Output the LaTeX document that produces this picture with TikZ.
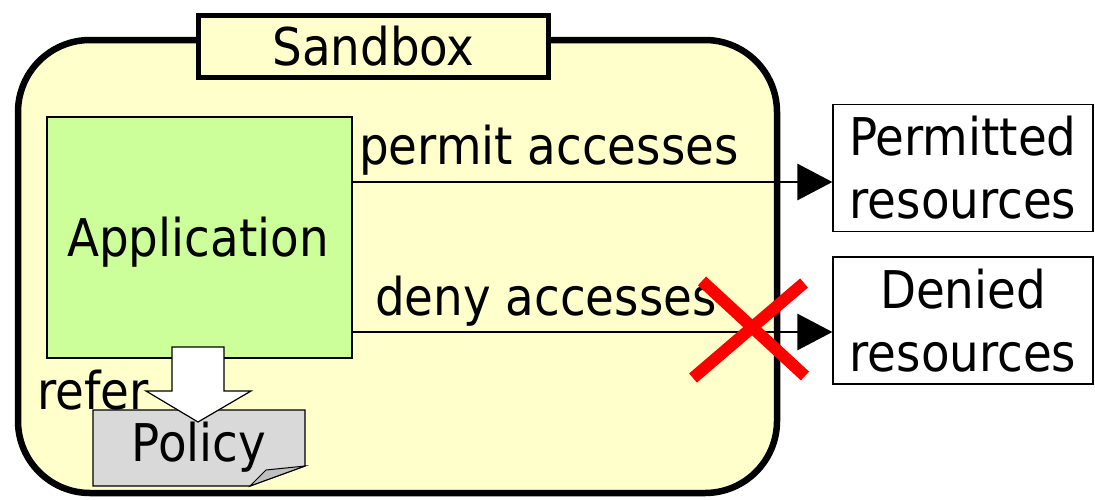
\documentclass[tikz,border=0pt]{standalone}
\usepackage{fontspec}
\setmainfont{DejaVu Sans Condensed}
\usetikzlibrary{arrows.meta}
\definecolor{sandfill}{HTML}{FFFFCC}
\definecolor{appfill}{HTML}{CCFF99}
\definecolor{polfill}{HTML}{D9D9D9}
\definecolor{foldfill}{HTML}{BFBFBF}
\tikzset{
  big/.style={font=\fontsize{52}{63}\selectfont},
  resbox/.style={draw, line width=1.2pt, fill=white, minimum width=260pt, minimum height=127pt, align=center, big},
  access/.style={line width=2.8pt, -{Triangle[length=35pt,width=36pt]}},
}
\begin{document}
\begin{tikzpicture}[x=1pt,y=-1pt]
\useasboundingbox (0,0) rectangle (1095,499);
% sandbox frame
\draw[line width=6.5pt, fill=sandfill, rounded corners=72pt] (18,40) rectangle (777,493);
\node[draw, line width=5pt, fill=sandfill, minimum width=350pt, minimum height=62pt, inner sep=0pt, big] (title) at (373.5,46) {Sandbox};
% application
\node[draw, line width=1.2pt, fill=appfill, minimum width=305pt, minimum height=241pt, big] (app) at (199.5,237.5) {};
\node[big, inner sep=0pt] (apptext) at (198,242) {Application};
% resources
\node[resbox] (perm) at (963,168) {Permitted\\resources};
\node[resbox] (deny) at (963,320.5) {Denied\\resources};
% accesses
\coordinate (p1) at (app.east |- 0,182);
\coordinate (d1) at (app.east |- 0,332);
\draw[access] (p1) -- (p1 -| perm.west);
\draw[access] (d1) -- (d1 -| deny.west);
\node[big, anchor=base west, inner sep=0pt] (ptext) at (359,164) {permit accesses};
\node[big, anchor=base west, inner sep=0pt] (dtext) at (375,315) {deny accesses};
% red cross on the denied path
\coordinate (x1) at (702,281);
\coordinate (x2) at (805,376);
\coordinate (x3) at (804,283);
\coordinate (x4) at (693,378);
\draw[red, line width=12pt] (x1) -- (x2);
\draw[red, line width=12pt] (x3) -- (x4);
% policy document with folded corner
\coordinate (pa) at (93,410);
\coordinate (pb) at (305,410);
\coordinate (pc) at (305,466);
\coordinate (pd) at (250,486);
\coordinate (pe) at (93,486);
\coordinate (pf) at (266,470);
\draw[line width=1.2pt, fill=polfill] (pa) -- (pb) -- (pc) -- (pd) -- (pe) -- cycle;
\draw[line width=1pt, fill=foldfill] (pc) -- (pf) -- (pd) -- cycle;
\node[big] (policy) at (199,447) {Policy};
% refer arrow
\coordinate (r1) at (172,347);
\coordinate (r2) at (224,347);
\coordinate (r3) at (224,391);
\coordinate (r4) at (251,391);
\coordinate (r5) at (198,422);
\coordinate (r6) at (146,391);
\coordinate (r7) at (172,391);
\draw[line width=1.2pt, fill=white] (r1) -- (r2) -- (r3) -- (r4) -- (r5) -- (r6) -- (r7) -- cycle;
\node[big, anchor=east, inner sep=0pt] (refer) at (149,390) {refer};
\end{tikzpicture}
\end{document}
